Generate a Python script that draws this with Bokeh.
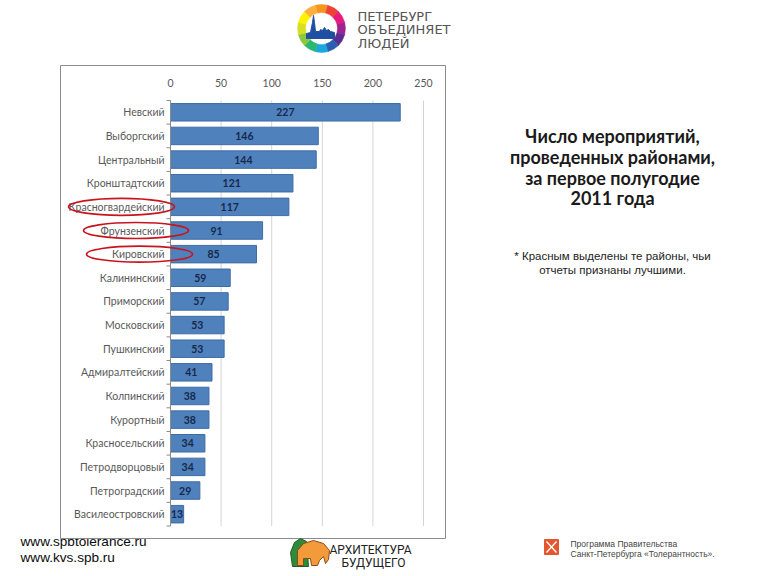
import math
from bokeh.plotting import figure
from bokeh.models import Range1d, ColumnDataSource
from bokeh.core.properties import value
from bokeh.embed import file_html
from bokeh.resources import INLINE

# ---------------- data ----------------
districts = ["Невский", "Выборгский", "Центральный", "Кронштадтский", "Красногвардейский",
             "Фрунзенский", "Кировский", "Калининский", "Приморский", "Московский",
             "Пушкинский", "Адмиралтейский", "Колпинский", "Курортный", "Красносельский",
             "Петродворцовый", "Петроградский", "Василеостровский"]
events = [227, 146, 144, 121, 117, 91, 85, 59, 57, 53, 53, 41, 38, 38, 34, 34, 29, 13]
best = ["Красногвардейский", "Фрунзенский", "Кировский"]
x_ticks = [0, 50, 100, 150, 200, 250]

title_lines = ["Число мероприятий,", "проведенных районами,", "за первое полугодие", "2011 года"]
note_lines = ["* Красным выделены те районы, чьи", "отчеты признаны лучшими."]

# ---------------- page geometry (slide layout) ----------------
W, H = 760, 572
X0_PX, PX_PER_UNIT = 170.0, 1.012      # page x of value 0, pixels per value unit
ROW0_PX, ROW_PX = 111.8, 23.64          # page y of first row centre, row pitch


def dx(X):
    return (X - X0_PX) / PX_PER_UNIT


def dy(Y):
    return -(Y - ROW0_PX) / ROW_PX


p = figure(width=W, height=H, output_backend="svg", toolbar_location=None,
           x_range=Range1d(dx(0), dx(W)), y_range=Range1d(dy(H), dy(0)),
           x_axis_location=None, y_axis_location=None, min_border=0)
p.outline_line_color = None
p.grid.grid_line_color = None
p.background_fill_color = "white"
p.border_fill_color = "white"

n = len(districts)
rows = [-k for k in range(n)]
top_edge, bottom_edge = rows[0] + 0.5, rows[-1] - 0.5


def txt(X, Y, text, size, font="Lato", style="normal", color="#000000", align="center"):
    p.text(x=[dx(X)], y=[dy(Y)], text=[text], text_font=value(font), text_font_size=size,
           text_font_style=style, text_color=color, text_align=align, text_baseline="middle")


# bottom-left urls (first one partly hidden under the chart box)
txt(20, 540.5, "www.spbtolerance.ru", "13.6px", font="Liberation Sans", color="#0a0a0a", align="left")
txt(20, 557, "www.kvs.spb.ru", "13.6px", font="Liberation Sans", color="#0a0a0a", align="left")

# chart box
p.quad(left=[dx(60)], right=[dx(445)], top=[dy(65)], bottom=[dy(538)],
       fill_color="white", line_color="#8c8c8c", line_width=1)

# vertical grid lines
p.segment(x0=x_ticks[1:], x1=x_ticks[1:], y0=top_edge, y1=bottom_edge,
          line_color="#d4d4d4", line_width=1)

# bars + value labels
src = ColumnDataSource(dict(y=rows, v=events, half=[v / 2 for v in events],
                            t=[str(v) for v in events], d=districts))
p.hbar(y="y", right="v", left=0, height=0.74, source=src,
       fill_color="#4f81bd", line_color="#3d6da6", line_width=1)
p.text(x="half", y="y", text="t", source=src, text_align="center", text_baseline="middle",
       text_font=value("Lato"), text_font_style="bold", text_font_size="10.5px",
       text_color="#17294a")

# category axis line + tick marks between categories + labels
p.segment(x0=[0], x1=[0], y0=[top_edge], y1=[bottom_edge], line_color="#8a8a8a", line_width=1)
bounds = [r + 0.5 for r in rows] + [bottom_edge]
p.segment(x0=[dx(X0_PX - 4)] * len(bounds), x1=[0] * len(bounds), y0=bounds, y1=bounds,
          line_color="#8a8a8a", line_width=1)
p.text(x=[dx(164)] * n, y=rows, text=districts, text_align="right", text_baseline="middle",
       text_font=value("Lato"), text_font_size="10.5px", text_color="#595959")

# value axis labels (top)
p.text(x=x_ticks, y=[dy(82)] * len(x_ticks), text=[str(t) for t in x_ticks],
       text_align="center", text_baseline="middle", text_font=value("Lato"),
       text_font_size="10.5px", text_color="#595959")

# red ellipses around the best districts
ell_cx = {"Красногвардейский": 121, "Фрунзенский": 135.5, "Кировский": 139}
ell_w = {"Красногвардейский": 106, "Фрунзенский": 105, "Кировский": 106}
p.ellipse(x=[dx(ell_cx[d]) for d in best], y=[rows[districts.index(d)] for d in best],
          width=[ell_w[d] for d in best], height=[17, 16, 16],
          width_units="screen", height_units="screen",
          fill_alpha=0, line_color="#c8141e", line_width=1.6)

# title and note
for i, t in enumerate(title_lines):
    txt(612, [135, 156.5, 177, 197.5][i], t, "18px", style="bold", color="#1a1a1a")
for i, t in enumerate(note_lines):
    txt(612, [255, 269][i], t, "11.5px", font="Liberation Sans", color="#222222")

# top logo: coloured ring + city silhouette + text
ring_cols = ["#f7941d", "#ef4136", "#e6197e", "#a0228e", "#5b2d90", "#2b60b0",
             "#1aa6df", "#2bb673", "#8dc63f", "#d7df23", "#fff200", "#fbb040"]
m = len(ring_cols)
step = 2 * math.pi / m
p.annular_wedge(x=[dx(321)] * m, y=[dy(28)] * m, inner_radius=16, outer_radius=24,
                inner_radius_units="screen", outer_radius_units="screen",
                start_angle=[math.pi / 2 - k * step - step / 2 for k in range(m)],
                end_angle=[math.pi / 2 - k * step + step / 2 for k in range(m)],
                fill_color=ring_cols, line_color=ring_cols, line_width=0.5)
city = [(306, 38), (306, 33), (310, 32), (312, 22), (313, 15), (314, 22), (315, 31),
        (319, 31), (320, 29), (322, 30), (324, 27), (326, 30), (328, 29), (330, 31),
        (334, 32), (334, 38)]
p.patch(x=[dx(a) for a, b in city], y=[dy(b) for a, b in city],
        fill_color="#1f4fa0", line_color="#1f4fa0")
for i, t in enumerate(["ПЕТЕРБУРГ", "ОБЪЕДИНЯЕТ", "ЛЮДЕЙ"]):
    txt(357, [15.5, 29, 42.5][i], t, "13px", font="DejaVu Sans", color="#555555", align="left")

# bottom centre logo
tree = [(292, 566), (290, 552), (294, 542), (300, 538), (306, 541), (308, 566)]
p.patch(x=[dx(a) for a, b in tree], y=[dy(b) for a, b in tree],
        fill_color="#2e8b3a", line_color="#1d5e26")
eleph = [(297, 565), (297, 550), (303, 543), (313, 540), (323, 543), (329, 550), (328, 559),
         (325, 563), (323, 556), (319, 560), (317, 565), (311, 565), (310, 558), (303, 558), (303, 565)]
p.patch(x=[dx(a) for a, b in eleph], y=[dy(b) for a, b in eleph],
        fill_color="#f39a3b", line_color="#8a4b12")
txt(329, 549, "АРХИТЕКТУРА", "12px", font="Roboto", color="#222222", align="left")
txt(341, 562, "БУДУЩЕГО", "12px", font="Roboto", color="#222222", align="left")

# bottom right emblem + text
p.quad(left=[dx(544)], right=[dx(558)], top=[dy(539)], bottom=[dy(554)],
       fill_color="#e4572e", line_color="#e4572e")
p.segment(x0=[dx(546), dx(556)], x1=[dx(556), dx(546)], y0=[dy(541), dy(541)],
          y1=[dy(552), dy(552)], line_color="white", line_width=1.3)
txt(570, 543, "Программа Правительства", "8.5px", font="Liberation Sans", color="#444444", align="left")
txt(570, 553, "Санкт-Петербурга «Толерантность».", "8.5px", font="Liberation Sans", color="#444444", align="left")

open("out.html", "w").write(file_html(p, INLINE))
